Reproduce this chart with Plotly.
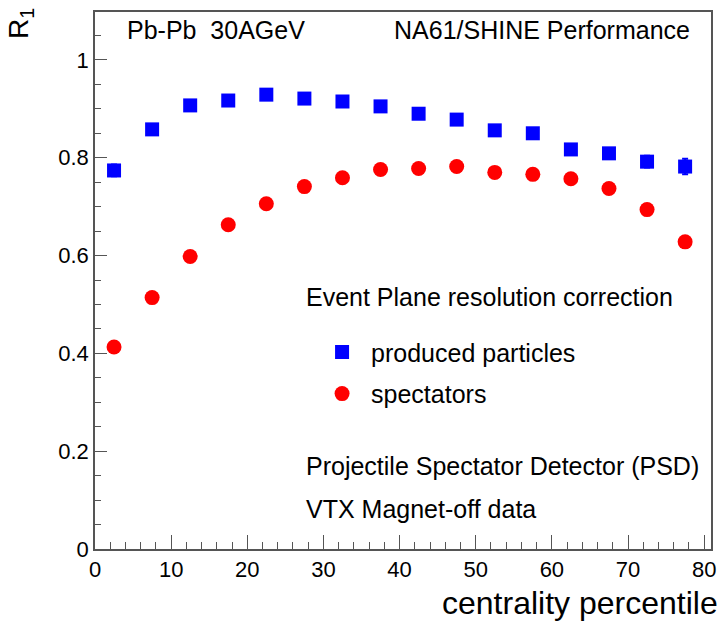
import plotly.graph_objects as go

centrality = [2.5, 7.5, 12.5, 17.5, 22.5, 27.5, 32.5, 37.5, 42.5, 47.5, 52.5, 57.5, 62.5, 67.5, 72.5, 77.5]
produced = [0.774, 0.858, 0.907, 0.917, 0.929, 0.921, 0.915, 0.905, 0.890, 0.878, 0.856, 0.850, 0.817, 0.809, 0.792, 0.782]
produced_err = [0.012, 0.006, 0.005, 0.005, 0.005, 0.005, 0.005, 0.005, 0.006, 0.006, 0.007, 0.007, 0.008, 0.009, 0.012, 0.016]
spectators = [0.413, 0.514, 0.598, 0.663, 0.706, 0.741, 0.759, 0.776, 0.778, 0.782, 0.770, 0.766, 0.757, 0.737, 0.694, 0.628]
spectators_err = [0.004, 0.004, 0.004, 0.004, 0.004, 0.004, 0.004, 0.004, 0.004, 0.004, 0.004, 0.004, 0.004, 0.004, 0.005, 0.006]

FONT = "Liberation Sans, Arial, Helvetica, sans-serif"

fig = go.Figure()
fig.add_trace(go.Scatter(
    x=centrality, y=produced, mode="markers", name="produced particles",
    legendgroup="a",
    marker=dict(symbol="square", size=14, color="#0000ff"),
    error_y=dict(type="data", array=produced_err, color="#0000ff", thickness=2, width=3),
))
fig.add_trace(go.Scatter(
    x=centrality, y=spectators, mode="markers", name="spectators",
    legendgroup="b",
    marker=dict(symbol="circle", size=15, color="#ff0000"),
    error_y=dict(type="data", array=spectators_err, color="#ff0000", thickness=2, width=3),
))

axis_common = dict(
    showline=True, linecolor="#555555", linewidth=1.5, mirror=True,
    ticks="inside", tickcolor="#555555", tickwidth=1.2,
    showgrid=False, zeroline=False,
    tickfont=dict(family=FONT, size=22, color="black"),
)

fig.update_xaxes(range=[0, 80.9], dtick=10, ticklen=14,
                 minor=dict(dtick=2, ticks="inside", ticklen=7, tickcolor="#555555", showgrid=False),
                 **axis_common)
fig.update_yaxes(range=[0, 1.098], ticklen=12,
                 tickvals=[0, 0.2, 0.4, 0.6, 0.8, 1.0], ticktext=["0", "0.2", "0.4", "0.6", "0.8", "1"],
                 minor=dict(dtick=0.05, ticks="inside", ticklen=6, tickcolor="#555555", showgrid=False),
                 **axis_common)

texts = [
    (0.048, 0.966, "Pb-Pb  30AGeV", "left"),
    (0.969, 0.966, "NA61/SHINE Performance", "right"),
    (0.34, 0.469, "Event Plane resolution correction", "left"),
    (0.34, 0.155, "Projectile Spectator Detector (PSD)", "left"),
    (0.34, 0.0745, "VTX Magnet-off data", "left"),
]
for x, y, t, anc in texts:
    fig.add_annotation(x=x, y=y, xref="paper", yref="paper", text=t, showarrow=False,
                       xanchor=anc, yanchor="middle",
                       font=dict(family=FONT, size=25, color="black"))

# axis titles
fig.add_annotation(x=1.014, y=-0.1, xref="paper", yref="paper", text="centrality percentile",
                   showarrow=False, xanchor="right", yanchor="middle",
                   font=dict(family=FONT, size=32, color="black"))
fig.add_annotation(x=-0.122, y=1.012, xref="paper", yref="paper", text="R<sub>1</sub>",
                   showarrow=False, xanchor="center", yanchor="top", textangle=-90,
                   font=dict(family=FONT, size=28, color="black"))

fig.update_layout(
    width=725, height=621,
    margin=dict(l=95, r=9, t=12, b=72),
    paper_bgcolor="white", plot_bgcolor="white",
    showlegend=True,
    legend=dict(x=0.354, y=0.409, xanchor="left", yanchor="top", itemwidth=48,
                bgcolor="rgba(0,0,0,0)", tracegroupgap=6,
                font=dict(family=FONT, size=25, color="black")),
)

fig.write_html("out.html", config={"displayModeBar": False},
               post_script="document.body.style.margin='0';document.body.style.overflow='hidden';")
